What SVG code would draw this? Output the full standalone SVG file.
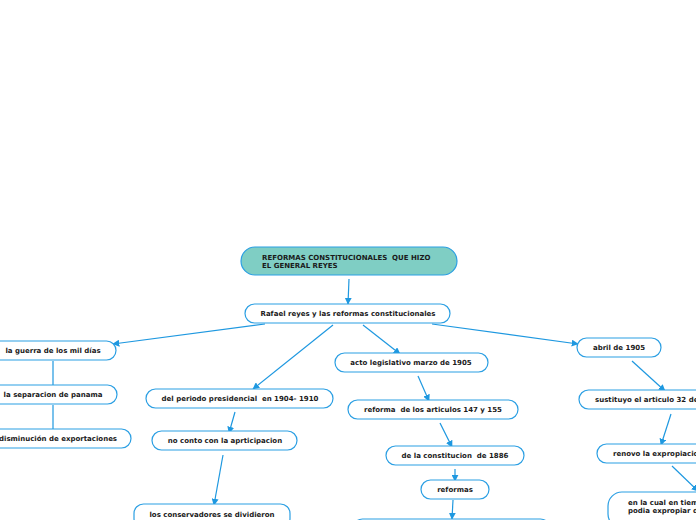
<svg xmlns="http://www.w3.org/2000/svg" width="696" height="520" viewBox="0 0 696 520">
<defs>
<style>
.n{fill:#fff;stroke:#2b9fe3;stroke-width:1.2}
.r{fill:#7fcec4;stroke:#2b9fe3;stroke-width:1.2}
.t{font-family:"DejaVu Sans",Verdana,sans-serif;font-weight:bold;font-size:7px;fill:#1a1a1a;white-space:pre}
.c{text-anchor:middle}
.e{fill:none;stroke:#1e98e0;stroke-width:1.2}
.a{marker-end:url(#ah)}
</style>
<marker id="ah" viewBox="0 0 10 10" refX="9" refY="5" markerWidth="7" markerHeight="7" markerUnits="userSpaceOnUse" orient="auto">
<path d="M0,0 L10,5 L0,10 z" fill="#1e98e0"/>
</marker>
</defs>
<rect width="696" height="520" fill="#fff"/>
<g id="connectors">
<path class="e a" d="M349,279 L348,304"/>
<path class="e a" d="M265,324 L113,344"/>
<path class="e" d="M53,361 L53,385"/>
<path class="e" d="M53,405 L53,429"/>
<path class="e a" d="M333,325 L253,389"/>
<path class="e a" d="M235,412 L229,433"/>
<path class="e a" d="M223,455 L214,505"/>
<path class="e a" d="M363,325 L400,354"/>
<path class="e a" d="M418,376 L429,401"/>
<path class="e a" d="M440,423 L452,447"/>
<path class="e a" d="M455,469 L455,481"/>
<path class="e a" d="M453,500 L452,519"/>
<path class="e a" d="M432,324 L578,344"/>
<path class="e a" d="M632,361 L665,391"/>
<path class="e a" d="M671,414 L661,445"/>
<path class="e a" d="M672,466 L698,491"/>
</g>
<g id="root">
<rect class="r" x="241" y="247" width="216" height="28" rx="14"/>
<text class="t" x="262" y="260" xml:space="preserve">REFORMAS CONSTITUCIONALES  QUE HIZO</text>
<text class="t" x="262" y="268">EL GENERAL REYES</text>
</g>
<g id="rafael">
<rect class="n" x="245" y="304" width="205" height="19" rx="9.5"/>
<text class="t c" x="348" y="316">Rafael reyes y las reformas constitucionales</text>
</g>
<g id="guerra">
<rect class="n" x="-12" y="341" width="128" height="19" rx="9.5"/>
<text class="t c" x="53" y="353">la guerra de los mil días</text>
</g>
<g id="panama">
<rect class="n" x="-12" y="385" width="129" height="19" rx="9.5"/>
<text class="t c" x="53" y="397">la separacion de panama</text>
</g>
<g id="exportaciones">
<rect class="n" x="-15" y="429" width="146" height="19" rx="9.5"/>
<text class="t c" x="58" y="441">disminución de exportaciones</text>
</g>
<g id="periodo">
<rect class="n" x="146" y="389" width="187" height="19" rx="9.5"/>
<text class="t c" x="240" y="401" xml:space="preserve">del periodo presidencial  en 1904- 1910</text>
</g>
<g id="participacion">
<rect class="n" x="152" y="431" width="145" height="19" rx="9.5"/>
<text class="t c" x="225" y="443">no conto con la aprticipacion</text>
</g>
<g id="conservadores">
<rect class="n" x="134" y="504" width="156" height="24" rx="9.5"/>
<text class="t c" x="212" y="517">los conservadores se dividieron</text>
</g>
<g id="acto">
<rect class="n" x="335" y="353" width="153" height="19" rx="9.5"/>
<text class="t c" x="411" y="365">acto legislativo marzo de 1905</text>
</g>
<g id="articulos">
<rect class="n" x="348" y="400" width="170" height="19" rx="9.5"/>
<text class="t c" x="433" y="412" xml:space="preserve">reforma  de los articulos 147 y 155</text>
</g>
<g id="constitucion">
<rect class="n" x="386" y="446" width="138" height="19" rx="9.5"/>
<text class="t c" x="455" y="458" xml:space="preserve">de la constitucion  de 1886</text>
</g>
<g id="reformas">
<rect class="n" x="421" y="480" width="68" height="19" rx="9.5"/>
<text class="t c" x="455" y="492">reformas</text>
</g>
<g id="bottom">
<rect class="n" x="353" y="519" width="197" height="20" rx="9.5"/>
</g>
<g id="abril">
<rect class="n" x="577" y="338" width="84" height="19" rx="9.5"/>
<text class="t c" x="619" y="350">abril de 1905</text>
</g>
<g id="sustituyo">
<rect class="n" x="579" y="390" width="140" height="19" rx="9.5"/>
<text class="t" x="595" y="402">sustituyo el articulo 32 de</text>
</g>
<g id="renovo">
<rect class="n" x="597" y="444" width="120" height="19" rx="9.5"/>
<text class="t" x="613" y="456">renovo la expropiacion</text>
</g>
<g id="cual">
<rect class="n" x="608" y="492" width="120" height="36" rx="14"/>
<text class="t" x="628" y="505">en la cual en tiempo</text>
<text class="t" x="628" y="513">podia expropiar de</text>
</g>
</svg>
